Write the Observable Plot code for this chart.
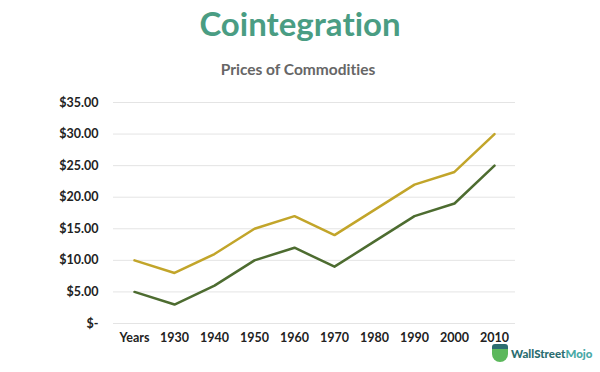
<!DOCTYPE html>
<html>
<head>
<meta charset="utf-8">
<script src="https://cdn.jsdelivr.net/npm/d3@7"></script>
<script src="https://cdn.jsdelivr.net/npm/@observablehq/plot@0.6"></script>
<style>
  html, body { margin: 0; padding: 0; background: #fff; }
  #wrap { position: relative; width: 600px; height: 372px; overflow: hidden; font-family: Lato, "Open Sans", sans-serif; font-variant-ligatures: none; }
  #title { position: absolute; left: 0; top: 3px; width: 600px; text-align: center; font-size: 33px; font-weight: 700; color: #4a9d83; line-height: 40px; }
  #subtitle { position: absolute; left: 0; top: 59px; width: 596px; text-align: center; font-size: 15.5px; font-weight: 700; color: #666; line-height: 20px; }
  #chart { position: absolute; left: 0; top: 88px; }
  #logo { position: absolute; left: 492px; top: 344px; font-size: 11.5px; font-weight: 900; color: #2b6d70; display: flex; align-items: center; gap: 3px; }
  #logo .ic { width: 16px; height: 18px; background: #5cb85c; border-radius: 3px 3px 8px 8px; border-top: 5px solid #2b6d70; box-sizing: border-box; }
  #logo .m { color: #48a9a6; }
</style>
</head>
<body>
<div id="wrap">
  <div id="title">Cointegration</div>
  <div id="subtitle">Prices of Commodities</div>
  <div id="chart"></div>
  <div id="logo"><span class="ic"></span><span>WallStreet<span class="m">Mojo</span></span></div>
</div>
<script>
const years = ["Years", "1930", "1940", "1950", "1960", "1970", "1980", "1990", "2000", "2010"];
const goldPrices = [10, 8, 11, 15, 17, 14, 18, 22, 24, 30];
const greenPrices = [5, 3, 6, 10, 12, 9, 13, 17, 19, 25];
const yTicks = [0, 5, 10, 15, 20, 25, 30, 35];

const gold = years.map((y, i) => ({year: y, price: goldPrices[i]}));
const green = years.map((y, i) => ({year: y, price: greenPrices[i]}));

const chart = Plot.plot({
  width: 600,
  height: 284,
  marginTop: 14,
  marginLeft: 113,
  marginRight: 85,
  marginBottom: 49,
  style: { fontFamily: "Lato, 'Open Sans', sans-serif", fontSize: "12.5px", fontWeight: 700, color: "#222", background: "transparent" },
  x: { type: "point", domain: years, padding: 0.5, label: null },
  y: { domain: [0, 35], label: null },
  marks: [
    Plot.gridY(yTicks, { stroke: "#e4e4e4", strokeOpacity: 1, strokeWidth: 1 }),
    Plot.axisY(yTicks, { tickSize: 0, tickPadding: 15, label: null, tickFormat: d => d === 0 ? "$-" : "$" + d.toFixed(2), fontWeight: 700 }),
    Plot.axisX({ tickSize: 0, tickPadding: 10, label: null, fontWeight: 700 }),
    Plot.line(gold, { x: "year", y: "price", stroke: "#c2a52a", strokeWidth: 2.5 }),
    Plot.line(green, { x: "year", y: "price", stroke: "#4d6c30", strokeWidth: 2.5 })
  ]
});
document.getElementById("chart").appendChild(chart);
</script>
</body>
</html>
